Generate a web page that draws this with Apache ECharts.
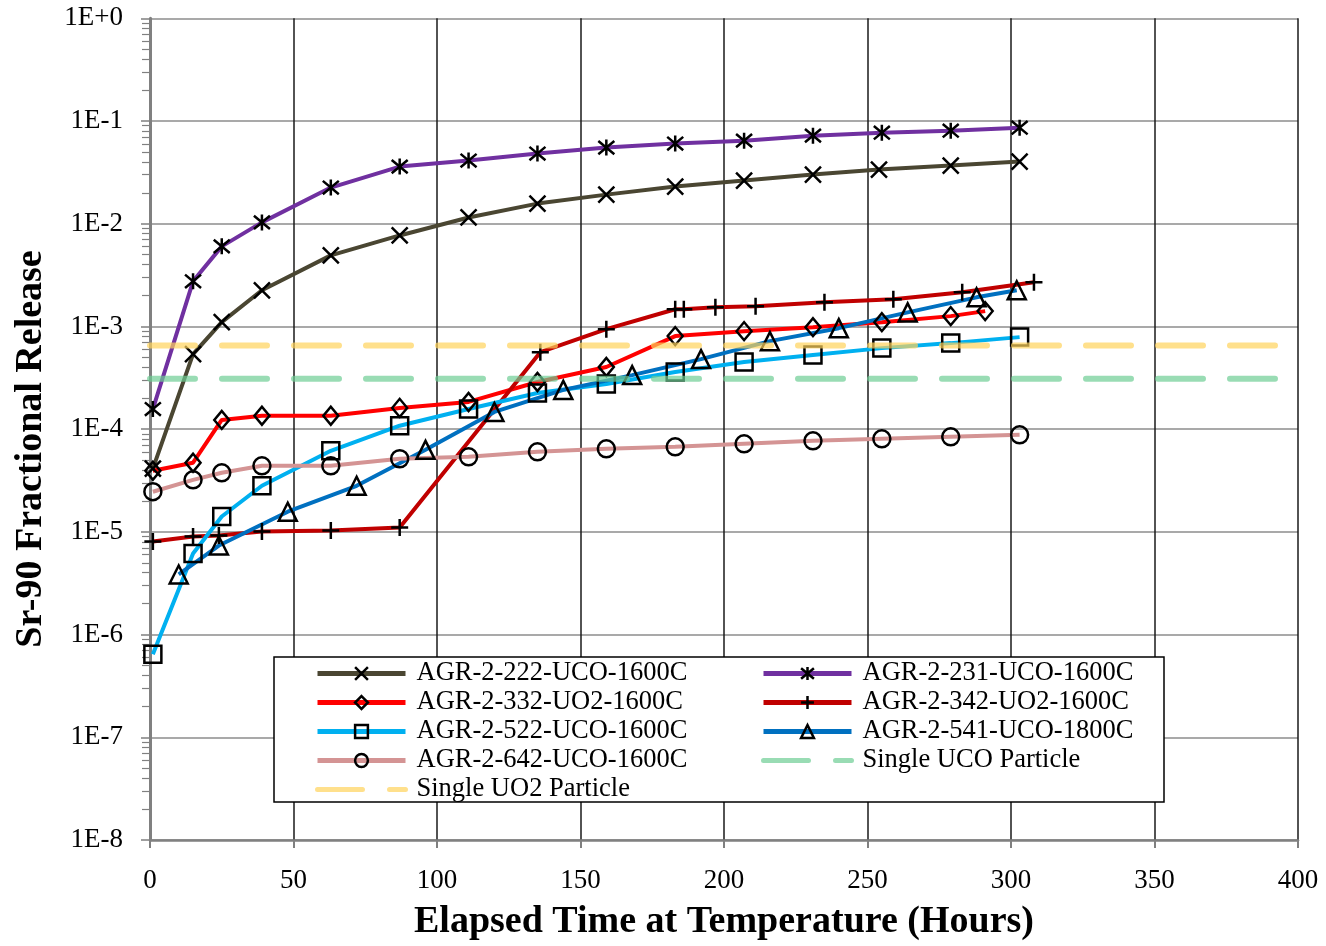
<!DOCTYPE html>
<html><head><meta charset="utf-8">
<script src="https://cdn.jsdelivr.net/npm/echarts@6/dist/echarts.min.js"></script>
<style>html,body{margin:0;padding:0;background:#fff}#c{width:1326px;height:946px}</style>
</head><body><div id="c"></div>
<script>
// ---- data (hours, fractional release) ----
const T_222 = [1,15,25,39,63,87,111,135,159,183,207,231,254,279,303];
const V_222 = [4.12e-5,5.38e-4,1.10e-3,2.25e-3,4.92e-3,7.69e-3,1.15e-2,1.57e-2,1.92e-2,2.30e-2,2.63e-2,3.01e-2,3.37e-2,3.68e-2,4.03e-2];
const T_231 = [1,15,25,39,63,87,111,135,159,183,207,231,255,279,303];
const V_231 = [1.57e-4,2.75e-3,6.02e-3,1.03e-2,2.25e-2,3.60e-2,4.12e-2,4.82e-2,5.51e-2,6.03e-2,6.44e-2,7.20e-2,7.70e-2,8.05e-2,8.61e-2];
const T_332 = [1,15,25,39,63,87,111,135,159,183,207,231,255,279,291];
const V_332 = [3.94e-5,4.71e-5,1.23e-4,1.35e-4,1.35e-4,1.61e-4,1.84e-4,2.88e-4,4.03e-4,8.05e-4,9.0e-4,9.84e-4,1.10e-3,1.26e-3,1.41e-3];
const T_342 = [1,15,24,39,63,87,136,159,183,186,197,211,235,259,283,308];
const V_342 = [8.05e-6,9.0e-6,9.2e-6,1.01e-5,1.03e-5,1.10e-5,5.62e-4,9.41e-4,1.47e-3,1.47e-3,1.54e-3,1.57e-3,1.72e-3,1.84e-3,2.15e-3,2.69e-3];
const T_522 = [1,15,25,39,63,87,111,135,159,183,207,231,255,279,303];
const V_522 = [6.44e-7,6.15e-6,1.41e-5,2.81e-5,6.15e-5,1.08e-4,1.57e-4,2.25e-4,2.75e-4,3.60e-4,4.50e-4,5.26e-4,6.15e-4,6.88e-4,7.87e-4];
const T_541 = [10,24,48,72,96,120,144,168,192,216,240,264,288,302];
const V_541 = [3.85e-6,7.36e-6,1.57e-5,2.81e-5,6.29e-5,1.47e-4,2.41e-4,3.36e-4,4.81e-4,7.19e-4,9.62e-4,1.37e-3,1.92e-3,2.25e-3];
const T_642 = [1,15,25,39,63,87,111,135,159,183,207,231,255,279,303];
const V_642 = [2.46e-5,3.21e-5,3.76e-5,4.40e-5,4.40e-5,5.15e-5,5.38e-5,6.02e-5,6.44e-5,6.73e-5,7.20e-5,7.70e-5,8.05e-5,8.42e-5,8.81e-5];
const UCO_LEVEL = 3.1e-4;
const UO2_LEVEL = 6.54e-4;
const X_RANGE = [0, 400];
const Y_MAJOR = [1e-8,1e-7,1e-6,1e-5,1e-4,1e-3,1e-2,1e-1,1];
const Y_MINOR = [];
for (let e = -8; e < 0; e++) for (let m = 2; m <= 9; m++) Y_MINOR.push(+(m * Math.pow(10, e)).toPrecision(3));
const X_TITLE = 'Elapsed Time at Temperature (Hours)';
const Y_TITLE = 'Sr-90 Fractional Release';

const FONT = 'Liberation Serif, Times New Roman, serif';
const zip = (t, v) => t.map((x, i) => [x, v[i]]);

const P_X = 'path://M0,0L10,10M10,0L0,10';
const P_AST = 'path://M0,0L10,10M10,0L0,10M5,-1L5,11';
const P_PLUS = 'path://M5,0L5,10M0,5L10,5';

function dataSeries(name, t, v, color, symbol, size) {
  return {
    name, type: 'line', data: zip(t, v), symbol, symbolSize: size, showSymbol: true,
    lineStyle: { color, width: 4 },
    itemStyle: { color: 'transparent', borderColor: '#000', borderWidth: 2.5 },
    emphasis: { disabled: true }, z: 3, animation: false
  };
}
function levelSeries(name, level, color) {
  return {
    name, type: 'line', data: [[X_RANGE[0], level], [X_RANGE[1], level]],
    symbol: 'none', showSymbol: false,
    lineStyle: { color, width: 6, type: [45, 27], cap: 'round', opacity: 0.7 },
    itemStyle: { color: 'transparent', borderColor: 'transparent', borderWidth: 0 },
    emphasis: { disabled: true }, z: 4, animation: false
  };
}

const series = [
  dataSeries('AGR-2-222-UCO-1600C', T_222, V_222, '#4a4632', P_X, 16),
  dataSeries('AGR-2-231-UCO-1600C', T_231, V_231, '#7030a0', P_AST, 16),
  dataSeries('AGR-2-332-UO2-1600C', T_332, V_332, '#ff0000', 'diamond', [15, 18]),
  dataSeries('AGR-2-342-UO2-1600C', T_342, V_342, '#c00000', P_PLUS, 17),
  dataSeries('AGR-2-522-UCO-1600C', T_522, V_522, '#00b0f0', 'rect', 17),
  dataSeries('AGR-2-541-UCO-1800C', T_541, V_541, '#0070c0', 'triangle', 18),
  dataSeries('AGR-2-642-UCO-1600C', T_642, V_642, '#d49494', 'circle', 17),
  levelSeries('Single UCO Particle', UCO_LEVEL, '#6dcd94'),
  levelSeries('Single UO2 Particle', UO2_LEVEL, '#ffd35b')
];

const legendBase = {
  orient: 'vertical', top: 659, itemGap: 0, itemWidth: 88, itemHeight: 16, padding: 0,
  selectedMode: false, z: 6,
  lineStyle: { width: 5 },
  itemStyle: { borderWidth: 2.5 },
  textStyle: { fontFamily: FONT, fontSize: 26.5, color: '#000', lineHeight: 29, padding: [0, 0, 0, 6] }
};
const NOMARK = { borderWidth: 0, borderColor: 'transparent', color: 'transparent' };

const chart = echarts.init(document.getElementById('c'), null, { renderer: 'canvas' });
chart.setOption({
  backgroundColor: '#fff',
  animation: false,
  grid: { left: 150, right: 28, top: 18.3, bottom: 103.7, containLabel: false },
  xAxis: {
    type: 'value', min: X_RANGE[0], max: X_RANGE[1], interval: 50,
    name: X_TITLE, nameLocation: 'middle', nameGap: 63,
    nameTextStyle: { fontFamily: FONT, fontSize: 38, fontWeight: 'bold', color: '#000' },
    axisLine: { show: true, lineStyle: { color: '#808080', width: 2.5 } },
    axisTick: { show: true, length: 8, lineStyle: { color: '#808080', width: 2 } },
    axisLabel: { fontFamily: FONT, fontSize: 27, color: '#000', margin: 27 },
    splitLine: { show: true, lineStyle: { color: '#1a1a1a', width: 1.5 } }
  },
  yAxis: [{
    type: 'log', logBase: 10, min: 1e-8, max: 1, position: 'left',
    axisLine: { show: true, lineStyle: { color: '#808080', width: 3 } },
    axisTick: { show: true, length: 9, lineStyle: { color: '#808080', width: 1.5 }, customValues: Y_MAJOR },
    axisLabel: {
      fontFamily: FONT, fontSize: 27, color: '#000', margin: 27, customValues: Y_MAJOR,
      formatter: v => { const e = Math.round(Math.log10(v)); return e >= 0 ? '1E+' + e : '1E' + e; }
    },
    splitLine: { show: true, lineStyle: { color: '#8c8c8c', width: 1.5 } }
  }, {
    type: 'log', logBase: 10, min: 1e-8, max: 1, position: 'left',
    axisLine: { show: false }, axisLabel: { show: false }, splitLine: { show: false },
    axisTick: { show: true, length: 8, lineStyle: { color: '#808080', width: 1.2 }, customValues: Y_MINOR }
  }],
  legend: [
    Object.assign({}, legendBase, { left: 315, data: ['AGR-2-222-UCO-1600C','AGR-2-332-UO2-1600C','AGR-2-522-UCO-1600C','AGR-2-642-UCO-1600C',{ name: 'Single UO2 Particle', itemStyle: NOMARK }] }),
    Object.assign({}, legendBase, { left: 761, data: ['AGR-2-231-UCO-1600C','AGR-2-342-UO2-1600C','AGR-2-541-UCO-1800C',{ name: 'Single UCO Particle', itemStyle: NOMARK }] })
  ],
  graphic: [{
    type: 'rect', z: 5, silent: true,
    shape: { x: 274, y: 657, width: 890, height: 145 },
    style: { fill: '#fff', stroke: '#000', lineWidth: 1.5 }
  }, {
    type: 'text', z: 5, silent: true, x: 31, y: 449, rotation: Math.PI / 2,
    style: { text: Y_TITLE, fontFamily: FONT, fontSize: 38, fontWeight: 'bold', fill: '#000', align: 'center', verticalAlign: 'middle' }
  }],
  series
});
</script></body></html>
